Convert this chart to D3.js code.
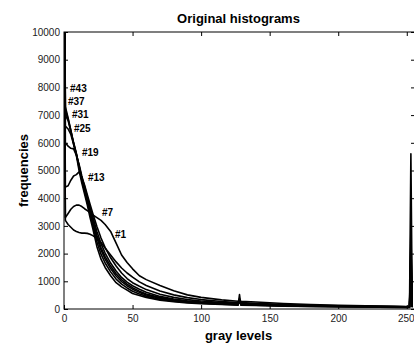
<!DOCTYPE html>
<html>
<head>
<meta charset="utf-8">
<script src="https://cdn.jsdelivr.net/npm/d3@7"></script>
<style>
  body { margin: 0; background: #fff; }
  svg { display: block; font-family: "Liberation Sans", Arial, sans-serif; }
  .tick text { fill: #222; font-size: 10px; }
  .tick line { stroke: #000; }
</style>
</head>
<body>
<div id="chart"></div>
<script>
const levels = [0, 1, 3, 5, 7, 9, 11, 13, 15, 17, 19, 21, 24, 27, 30, 34, 38, 42, 46, 50,
  55, 60, 70, 80, 90, 100, 115, 127, 128, 129, 140, 160, 180, 200, 220, 240, 250, 252, 253, 254];

// frequencies per image (#43 is the most peaked one)
const h43 = [16000, 7300, 6900, 6450, 5950, 5550, 5000, 4550, 4150, 3750, 3300, 2900, 2250, 1800, 1500, 1200, 950, 800, 680, 560,
  490, 420, 320, 260, 220, 190, 160, 140, 520, 140, 125, 105, 90, 80, 70, 60, 55, 58, 5600, 60];
const h37 = [15500, 7200, 6850, 6450, 6000, 5600, 5100, 4650, 4250, 3850, 3420, 3020, 2420, 1980, 1660, 1340, 1080, 900, 760, 640,
  545, 465, 350, 285, 238, 207, 172, 152, 380, 152, 136, 113, 96, 86, 76, 66, 60, 62, 2850, 64];
const h31 = [15000, 7000, 6800, 6400, 6000, 5620, 5150, 4700, 4300, 3900, 3500, 3120, 2560, 2130, 1800, 1460, 1190, 990, 840, 715,
  600, 510, 385, 310, 258, 222, 185, 164, 330, 164, 145, 120, 102, 91, 81, 71, 66, 67, 2400, 68];
const h25 = [14500, 6600, 6500, 6300, 5950, 5600, 5180, 4730, 4340, 3960, 3580, 3200, 2660, 2220, 1890, 1550, 1270, 1060, 900, 770,
  645, 545, 410, 328, 272, 233, 194, 172, 300, 172, 152, 125, 106, 95, 85, 74, 68, 69, 2100, 70];
const h19 = [14000, 6000, 5880, 5800, 5780, 5550, 5220, 4800, 4420, 4040, 3670, 3320, 2800, 2360, 2020, 1660, 1370, 1140, 970, 840,
  710, 605, 455, 360, 296, 252, 208, 184, 290, 184, 162, 133, 112, 99, 88, 78, 72, 73, 1800, 74];
const h13 = [13000, 4400, 4450, 4650, 4800, 4850, 4950, 4750, 4480, 4130, 3780, 3450, 2980, 2560, 2220, 1850, 1550, 1300, 1100, 950,
  820, 700, 530, 420, 340, 290, 235, 205, 280, 205, 178, 145, 122, 107, 95, 84, 77, 78, 1600, 79];
const h7 = [12000, 3200, 3050, 2950, 2850, 2800, 2760, 2740, 2740, 2730, 2700, 2650, 2550, 2400, 2200, 1950, 1700, 1480, 1300, 1150,
  980, 850, 650, 510, 410, 340, 270, 230, 280, 230, 205, 165, 135, 115, 100, 88, 80, 82, 1300, 84];
const h1 = [11000, 3300, 3450, 3600, 3700, 3750, 3750, 3700, 3620, 3550, 3480, 3400, 3300, 3200, 3050, 2800, 2380, 1950, 1680, 1450,
  1200, 1060, 850, 660, 510, 420, 330, 280, 320, 280, 250, 200, 160, 135, 115, 100, 90, 92, 1100, 94];

const seriesNames = ["#1", "#7", "#13", "#19", "#25", "#31", "#37", "#43"];
const seriesValues = [h1, h7, h13, h19, h25, h31, h37, h43];

// where each tag was written (gray level, frequency)
const labelNames = ["#43", "#37", "#31", "#25", "#19", "#13", "#7", "#1"];
const labelLevels = [4.4, 2.9, 5.8, 7.3, 13.1, 17.5, 27.7, 37.2];
const labelFreqs = [7830, 7370, 6900, 6390, 5520, 4620, 3360, 2560];

const xTicks = [0, 50, 100, 150, 200, 250];
const yTicks = [0, 1000, 2000, 3000, 4000, 5000, 6000, 7000, 8000, 9000, 10000];

const width = 414;
const height = 345;
const margin = { top: 32, right: -1, bottom: 36, left: 64 };

const svg = d3.select("#chart")
  .append("svg")
  .attr("width", width)
  .attr("height", height);

const x = d3.scaleLinear().domain([0, 256]).range([margin.left, width - margin.right]);
const y = d3.scaleLinear().domain([0, 10000]).range([height - margin.bottom, margin.top]);

// clip so the level-0 spikes stop at the frame
svg.append("clipPath").attr("id", "plot-clip")
  .append("rect")
  .attr("x", x(0)).attr("y", y(10000))
  .attr("width", x(256) - x(0)).attr("height", y(0) - y(10000));

// axes with ticks pointing inward, matlab style
svg.append("g")
  .attr("transform", `translate(0,${y(0)})`)
  .call(d3.axisBottom(x).tickValues(xTicks).tickSize(-4).tickSizeOuter(0).tickPadding(6).tickFormat(d3.format("d")))
  .call((g) => g.select(".domain").remove())
  // last label sits right at the window edge
  .call((g) => g.selectAll(".tick text").filter((d) => d === 250).attr("dx", -1));
svg.append("g")
  .attr("transform", `translate(0,${y(10000)})`)
  .call(d3.axisTop(x).tickValues(xTicks).tickSize(-4).tickSizeOuter(0).tickFormat(""))
  .call((g) => g.select(".domain").remove());
svg.append("g")
  .attr("transform", `translate(${x(0)},0)`)
  .call(d3.axisLeft(y).tickValues(yTicks).tickSize(-4).tickSizeOuter(0).tickPadding(4).tickFormat(d3.format("d")))
  .call((g) => g.select(".domain").remove());
svg.append("g")
  .attr("transform", `translate(${x(256)},0)`)
  .call(d3.axisRight(y).tickValues(yTicks).tickSize(-4).tickSizeOuter(0).tickFormat(""))
  .call((g) => g.select(".domain").remove());

svg.append("rect")
  .attr("x", x(0)).attr("y", y(10000))
  .attr("width", x(256) - x(0)).attr("height", y(0) - y(10000))
  .attr("fill", "none").attr("stroke", "#000").attr("stroke-width", 1);

const line = d3.line()
  .x((d, i) => x(levels[i]))
  .y((d) => y(d));

svg.append("g")
  .attr("clip-path", "url(#plot-clip)")
  .selectAll("path")
  .data(seriesValues)
  .join("path")
  .attr("d", line)
  .attr("fill", "none")
  .attr("stroke", "#000")
  .attr("stroke-width", 1.6)
  .attr("stroke-linejoin", "round");

svg.append("g")
  .selectAll("text")
  .data(labelNames)
  .join("text")
  .attr("x", (d, i) => x(labelLevels[i]))
  .attr("y", (d, i) => y(labelFreqs[i]))
  .attr("font-size", 10)
  .attr("font-weight", "bold")
  .text((d) => d);

svg.append("text")
  .attr("x", (x(0) + x(256)) / 2 - 1)
  .attr("y", 23)
  .attr("text-anchor", "middle")
  .attr("font-size", 13)
  .attr("font-weight", "bold")
  .text("Original histograms");

svg.append("text")
  .attr("x", (x(0) + x(256)) / 2 - 1)
  .attr("y", 340)
  .attr("text-anchor", "middle")
  .attr("font-size", 13)
  .attr("font-weight", "bold")
  .text("gray levels");

svg.append("text")
  .attr("transform", `translate(28,${(y(0) + y(10000)) / 2}) rotate(-90)`)
  .attr("text-anchor", "middle")
  .attr("font-size", 13)
  .attr("font-weight", "bold")
  .text("frequencies");
</script>
</body>
</html>
